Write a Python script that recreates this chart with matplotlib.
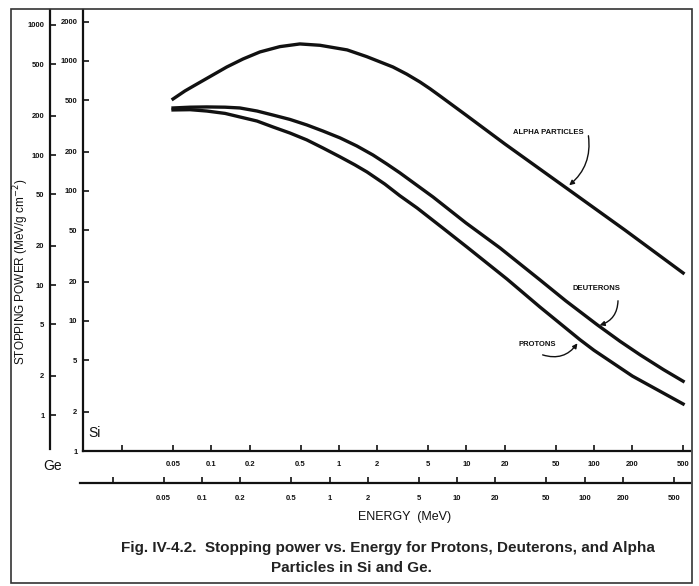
import matplotlib
matplotlib.use("Agg")
import matplotlib.pyplot as plt
from matplotlib.patches import Rectangle

# Si energy (MeV) vs stopping power (MeV/g cm^-2)
energy_p = [0.05, 0.068, 0.092, 0.128, 0.167, 0.228, 0.303, 0.413, 0.56, 0.75, 1.02, 1.33, 1.66,
            2.29, 3.0, 4.1, 6.5, 10.1, 20.8, 37.7, 77.6, 100, 200, 500]
stop_p = [420, 422, 412, 395, 371, 345, 311, 279, 247, 214, 183, 159, 140,
          113, 92, 74, 52, 37, 21.0, 12.8, 7.18, 5.95, 3.77, 2.3]

energy_d = [0.05, 0.068, 0.092, 0.128, 0.167, 0.228, 0.303, 0.413, 0.56, 0.75, 1.02, 1.38, 1.85,
            2.38, 3.0, 5.46, 9.9, 18.3, 37.7, 60, 106, 160, 230, 350, 500]
stop_d = [435, 441, 443, 441, 435, 412, 384, 355, 322, 289, 256, 222, 189,
          161, 138, 90, 56.8, 36.5, 20.7, 14.3, 9.35, 6.98, 5.49, 4.23, 3.44]

energy_a = [0.05, 0.062, 0.072, 0.132, 0.177, 0.24, 0.344, 0.494, 0.71, 1.16, 1.65, 2.65, 3.4,
            4.32, 5.17, 6.2, 9.9, 20, 61, 175, 500]
stop_a = [510, 588, 640, 899, 1036, 1173, 1289, 1352, 1320, 1216, 1080, 899, 792,
          689, 612, 538, 384, 230, 105, 50, 23.4]

si_yticks = [1, 2, 5, 10, 20, 50, 100, 200, 500, 1000, 2000]
ge_yticks = [1, 2, 5, 10, 20, 50, 100, 200, 500, 1000]
xticks = [0.02, 0.05, 0.1, 0.2, 0.5, 1, 2, 5, 10, 20, 50, 100, 200, 500]
xtick_labels = ["", "0.05", "0.1", "0.2", "0.5", "1", "2", "5", "10", "20", "50", "100", "200", "500"]

W, H = 699, 586
SANS = ["Liberation Sans", "DejaVu Sans"]
INK = "#111111"


def px_rect(x0, y0, x1, y1):
    # pixel box (top-left origin) -> figure fraction [l, b, w, h]
    return [x0 / W, (H - y1) / H, (x1 - x0) / W, (y1 - y0) / H]


def fx(x):
    return x / W


def fy(y):
    return (H - y) / H


def tick_font(ax):
    for lab in ax.get_xticklabels() + ax.get_yticklabels():
        lab.set_fontfamily(SANS)
        lab.set_fontweight("bold")
        lab.set_fontsize(5.5)
        lab.set_color(INK)


def main() -> None:
    fig = plt.figure(figsize=(W / 100, H / 100), dpi=100)

    # outer frame
    fig.patches.append(Rectangle((fx(11), fy(583)), fx(692) - fx(11), fy(9) - fy(583),
                                 transform=fig.transFigure, fill=False,
                                 edgecolor="#333333", linewidth=1.2))

    # main axes (Si)
    ax = fig.add_axes(px_rect(83, 10, 690, 451))
    ax.set_xscale("log")
    ax.set_yscale("log")
    ax.set_xlim(0.00984, 566)
    ax.set_ylim(1, 2466)
    for side in ["top", "right"]:
        ax.spines[side].set_visible(False)
    for side in ["left", "bottom"]:
        ax.spines[side].set_linewidth(1.6)
        ax.spines[side].set_color(INK)
    ax.minorticks_off()
    ax.set_xticks(xticks)
    ax.set_xticklabels(xtick_labels)
    ax.set_yticks(si_yticks)
    ax.set_yticklabels([str(v) for v in si_yticks])
    ax.tick_params(direction="in", length=4, width=1.2, color=INK)
    ax.tick_params(axis="x", pad=7)
    ax.tick_params(axis="y", pad=4)
    ax.patch.set_alpha(0)
    tick_font(ax)

    ax.plot(energy_a, stop_a, color=INK, lw=2.4, solid_joinstyle="round")
    ax.plot(energy_d, stop_d, color=INK, lw=2.4, solid_joinstyle="round")
    ax.plot(energy_p, stop_p, color=INK, lw=2.4, solid_joinstyle="round")

    # curve labels with curved arrows (figure pixel positions)
    lab_kw = dict(fontsize=5.5, fontweight="bold", family=SANS, color=INK,
                  ha="center", va="center", xycoords="figure fraction",
                  textcoords="figure fraction")
    arrow = dict(arrowstyle="-|>", color=INK, lw=1.0, mutation_scale=7)
    ax.annotate("", xy=(fx(567), fy(187)), xytext=(fx(588), fy(133)),
                xycoords="figure fraction", textcoords="figure fraction",
                arrowprops=dict(connectionstyle="arc3,rad=-0.3", **arrow))
    ax.annotate("ALPHA PARTICLES", xy=(fx(548), fy(132)), **lab_kw)
    ax.annotate("", xy=(fx(597), fy(326)), xytext=(fx(618), fy(298)),
                xycoords="figure fraction", textcoords="figure fraction",
                arrowprops=dict(connectionstyle="arc3,rad=-0.4", **arrow))
    ax.annotate("DEUTERONS", xy=(fx(596), fy(288)), **lab_kw)
    ax.annotate("", xy=(fx(579), fy(341)), xytext=(fx(540), fy(354)),
                xycoords="figure fraction", textcoords="figure fraction",
                arrowprops=dict(connectionstyle="arc3,rad=0.4", **arrow))
    ax.annotate("PROTONS", xy=(fx(537), fy(345)), **lab_kw)

    # Ge stopping-power scale
    gy = fig.add_axes(px_rect(50, 10, 52, 449))
    gy.set_yscale("log")
    gy.set_ylim(0.548, 1304)
    gy.set_xticks([])
    for side in ["top", "right", "bottom"]:
        gy.spines[side].set_visible(False)
    gy.spines["left"].set_linewidth(1.6)
    gy.spines["left"].set_color(INK)
    gy.minorticks_off()
    gy.set_yticks(ge_yticks)
    gy.set_yticklabels([str(v) for v in ge_yticks])
    gy.tick_params(direction="in", length=4, width=1.2, color=INK, pad=4)
    gy.patch.set_alpha(0)
    tick_font(gy)

    # Ge energy scale
    gx = fig.add_axes(px_rect(80, 481, 690, 483))
    gx.set_xscale("log")
    gx.set_xlim(0.01104, 672)
    gx.set_yticks([])
    for side in ["top", "right", "left"]:
        gx.spines[side].set_visible(False)
    gx.spines["bottom"].set_linewidth(1.6)
    gx.spines["bottom"].set_color(INK)
    gx.minorticks_off()
    gx.set_xticks(xticks)
    gx.set_xticklabels(xtick_labels)
    gx.tick_params(direction="in", length=4, width=1.2, color=INK, pad=9)
    gx.patch.set_alpha(0)
    tick_font(gx)

    # texts
    fig.text(fx(88), fy(433), "Si", fontsize=10, family=SANS, color=INK, ha="left", va="center")
    fig.text(fx(43), fy(466), "Ge", fontsize=10, family=SANS, color=INK, ha="left", va="center")
    fig.text(fx(21), fy(272), "STOPPING POWER (MeV/g cm$^{-2}$)", fontsize=8.5, family=SANS,
             color=INK, rotation=90, ha="center", va="center")
    fig.text(fx(405), fy(517), "ENERGY  (MeV)", fontsize=9, family=SANS, color=INK,
             ha="center", va="center")
    fig.text(fx(388), fy(548),
             "Fig. IV-4.2.  Stopping power vs. Energy for Protons, Deuterons, and Alpha",
             fontsize=11, fontweight="bold", family=SANS, color="#222222",
             ha="center", va="center")
    fig.text(fx(351), fy(568), "Particles in Si and Ge.", fontsize=11, fontweight="bold",
             family=SANS, color="#222222", ha="center", va="center")

    fig.savefig("out.png", dpi=100)


if __name__ == "__main__":
    main()
